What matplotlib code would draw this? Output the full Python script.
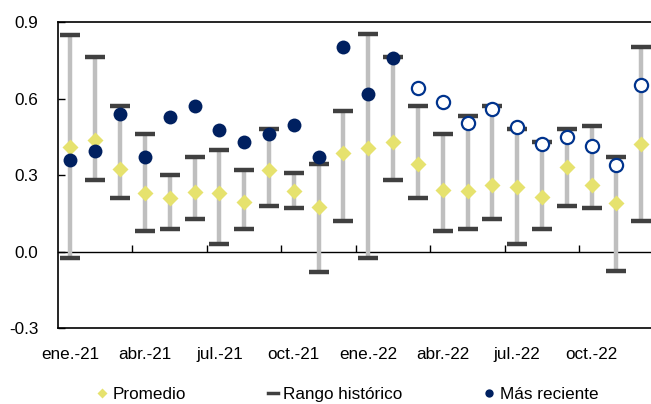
import numpy as np
import matplotlib.pyplot as plt
from matplotlib.lines import Line2D
from matplotlib.ticker import FormatStrFormatter

plt.rcParams['font.family'] = ['Liberation Sans', 'DejaVu Sans']
plt.rcParams['axes.unicode_minus'] = False

months = ['ene.-21', 'feb.-21', 'mar.-21', 'abr.-21', 'may.-21', 'jun.-21',
          'jul.-21', 'ago.-21', 'sep.-21', 'oct.-21', 'nov.-21', 'dic.-21',
          'ene.-22', 'feb.-22', 'mar.-22', 'abr.-22', 'may.-22', 'jun.-22',
          'jul.-22', 'ago.-22', 'sep.-22', 'oct.-22', 'nov.-22', 'dic.-22']

rango_max = [0.850, 0.763, 0.570, 0.462, 0.301, 0.372, 0.400, 0.321, 0.481, 0.309, 0.342, 0.552,
             0.853, 0.763, 0.570, 0.462, 0.532, 0.571, 0.481, 0.430, 0.481, 0.493, 0.372, 0.801]
rango_min = [-0.027, 0.282, 0.211, 0.082, 0.090, 0.129, 0.031, 0.090, 0.180, 0.172, -0.080, 0.121,
             -0.027, 0.280, 0.211, 0.082, 0.090, 0.129, 0.031, 0.090, 0.180, 0.172, -0.078, 0.121]
promedio = [0.408, 0.437, 0.322, 0.228, 0.209, 0.232, 0.228, 0.196, 0.318, 0.239, 0.173, 0.385,
            0.406, 0.430, 0.342, 0.240, 0.237, 0.261, 0.252, 0.215, 0.331, 0.261, 0.190, 0.421]
reciente = [0.359, 0.394, 0.540, 0.369, 0.527, 0.570, 0.477, 0.428, 0.459, 0.496, 0.369, 0.803,
            0.616, 0.760, 0.643, 0.587, 0.505, 0.557, 0.489, 0.420, 0.451, 0.415, 0.338, 0.653]
n_observado = 14  # meses con dato observado (punto relleno)

x = np.arange(len(months))
navy = '#002060'
yellow = '#E6E26E'
fs = 12.3

fig = plt.figure(figsize=(6.51, 4.04), dpi=100)
ax = fig.add_axes([0.0891, 0.188, 0.915, 0.7575])

ax.vlines(x, rango_min, rango_max, color='#BFBFBF', lw=3.2, zorder=1)
ax.plot(x, rango_max, ls='none', marker='_', ms=14, mew=3.2, color='#404040', zorder=2)
ax.plot(x, rango_min, ls='none', marker='_', ms=14, mew=3.2, color='#404040', zorder=2)
ax.plot(x, promedio, ls='none', marker='D', ms=8.5, color=yellow, mec='none', zorder=3)
ax.plot(x[:n_observado], reciente[:n_observado], ls='none', marker='o', ms=10,
        color=navy, mec='none', zorder=4)
ax.plot(x[n_observado:], reciente[n_observado:], ls='none', marker='o', ms=9.5,
        mfc='white', mec='#00338D', mew=1.6, zorder=4)

ax.set_xlim(-0.5, len(months) - 0.5)
ax.set_ylim(-0.3, 0.9)
ax.set_yticks([-0.3, 0.0, 0.3, 0.6, 0.9])
ax.yaxis.set_major_formatter(FormatStrFormatter('%.1f'))
ax.tick_params(axis='y', direction='in', length=5, width=1, pad=14, labelsize=fs)

ax.set_xticks(x[::3])
ax.set_xticklabels(months[::3])
ax.tick_params(axis='x', length=0, pad=14, labelsize=fs)

for s in ax.spines.values():
    s.set_linewidth(1.2)

# eje horizontal en cero con marcas cada trimestre
sec = ax.secondary_xaxis(0.25)
sec.set_xticks(np.arange(2.5, len(months) - 1, 3))
sec.set_xticklabels([])
sec.tick_params(direction='in', length=5, width=1)
sec.spines['bottom'].set_linewidth(1)

handles = [
    Line2D([], [], ls='none', marker='D', ms=5, color=yellow, mec='none'),
    Line2D([], [], color='#404040', lw=2.5),
    Line2D([], [], ls='none', marker='o', ms=6, color=navy, mec='none'),
]
fig.legend(handles, ['Promedio', 'Rango histórico', 'Más reciente'],
           loc='center', bbox_to_anchor=(0.534, 0.024), ncol=3, frameon=False,
           fontsize=fs, handlelength=0.6, handletextpad=0.3, columnspacing=4.8)

fig.savefig('out.png', dpi=100)
